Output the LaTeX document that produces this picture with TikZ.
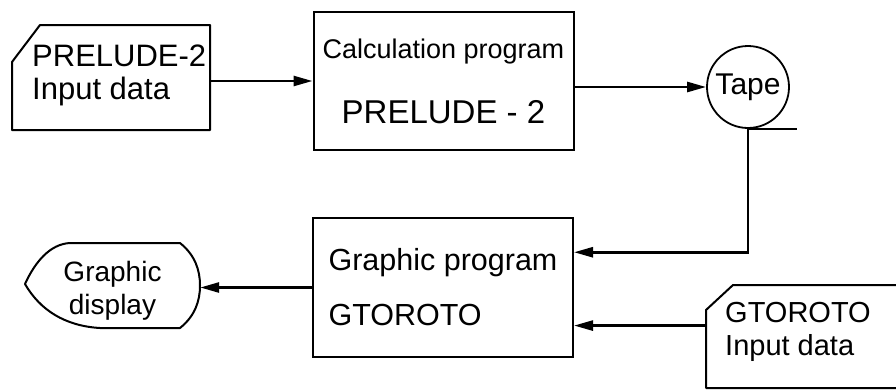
\documentclass[tikz,border=0pt]{standalone}
\usepackage{fontspec}
\setmainfont{Liberation Sans}
\usetikzlibrary{arrows.meta,calc}

\tikzset{
    prog/.style={draw, line width=2pt, inner sep=0pt},
    flow/.style={line width=2.6pt, -{Triangle[length=19pt,width=10pt]}},
    outline/.style={line width=2pt, line join=round},
}

\begin{document}
\begin{tikzpicture}[x=1pt,y=-1pt]
    \useasboundingbox (0,0) rectangle (896,391);

    % Input card for PRELUDE-2
    \draw[outline] (12,130) -- (12,62) -- (40,25) -- (210,25) -- (210,130) -- cycle;
    \node[minimum width=198pt, minimum height=105pt] (prelIn) at (111,77.5) {};
    \node[anchor=north west, inner sep=0pt, align=left, font=\fontsize{31}{33}\selectfont] (prelInText) at (32,45) {PRELUDE-2\\Input data};

    % Calculation program box
    \node[prog, minimum width=260pt, minimum height=138pt, align=center, font=\fontsize{33}{65}\selectfont] (calc) at (443.5,81) {{\fontsize{27}{65}\selectfont Calculation program}\\PRELUDE - 2};

    % Tape, with its line underneath
    \node[draw, circle, line width=1.8pt, minimum size=82pt, inner sep=0pt, font=\fontsize{30}{33}\selectfont] (tape) at (748,87) {Tape};
    \draw[outline] (tape.south) -- ++(49,0);

    % Graphic program box
    \node[prog, minimum width=260pt, minimum height=139pt, align=left, font=\fontsize{30.5}{55}\selectfont] (graph) at (443,287.5) {Graphic program\\GTOROTO};

    % Graphic display
    \draw[outline] (25,284) .. controls (35,262) and (50,244) .. (70,243) -- (180,243)
        .. controls (195,255) and (200,270) .. (200,285.5)
        .. controls (200,301) and (195,316) .. (180,328) -- (100,328)
        .. controls (65,326) and (40,310) .. cycle;
    \node[minimum width=175pt, minimum height=85pt, align=center, font=\fontsize{28}{33}\selectfont] (display) at (112.5,291) {Graphic\\display};

    % Input card for GTOROTO (runs off the right edge)
    \draw[outline] (896,285) -- (733,285) -- (706,310) -- (706,388) -- (896,388);
    \node[minimum width=190pt, minimum height=103pt] (gtorIn) at (801,336.5) {};
    \node[anchor=north west, inner sep=0pt, align=left, font=\fontsize{29}{33}\selectfont] (gtorInText) at (725,302) {GTOROTO\\Input data};

    % Connectors
    \coordinate (tapeIn) at ($(graph.north east)!0.25!(graph.south east)$);
    \coordinate (gtorEnd) at ($(graph.north east)!0.77!(graph.south east)$);
    \draw[flow] (prelIn.east |- calc.west) -- (calc.west);
    \draw[flow] (calc.east |- tape.west) -- (tape.west);
    \draw[flow] (tape.south) |- (tapeIn);
    \draw[flow] (gtorIn.west |- gtorEnd) -- (gtorEnd);
    \draw[flow] (graph.west) -- (graph.west -| display.east);
\end{tikzpicture}
\end{document}
